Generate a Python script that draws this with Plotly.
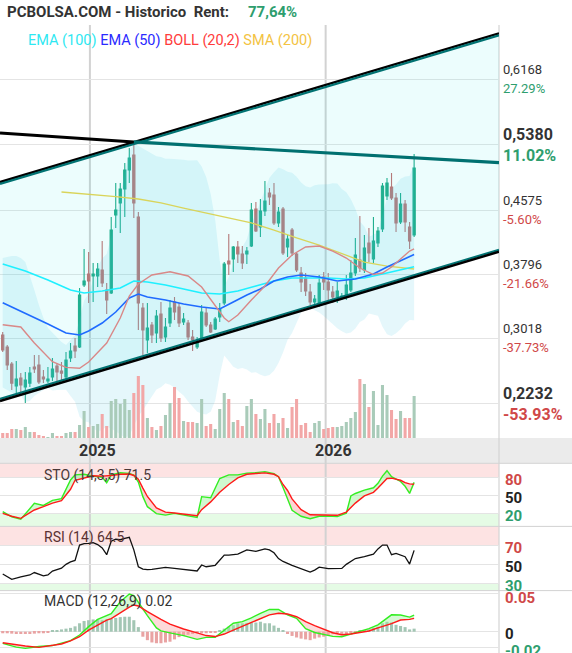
import numpy as np
import pandas as pd
import plotly.graph_objects as go

W, H = 572, 653

# ---------------- data (weekly candles) ----------------
dates = pd.date_range('2024-08-19', periods=92, freq='7D')

opens = [.3061,.2915,.2707,.2439,.2537,.2427,.2475,.2671,.2695,.2549,
         .2500,.2549,.2683,.2622,.2549,.2780,.2927,.2915,.3670,.3804,
         .3780,.3780,.3853,.3609,.3572,.4523,.4670,.4840,.5071,.5254,
         .4499,.3390,.3000,.3183,.3085,.3316,.3037,.3207,.3463,.3402,
         .3219,.3207,.3037,.2915,.3012,.3329,.3183,.3134,.3280,.3450,
         .3963,.3987,.4133,.4048,.4048,.4145,.4596,.4377,.4572,.4791,
         .4767,.4426,.4596,.4133,.4340,.4048,.3816,.3756,.3585,.3463,
         .3450,.3768,.3707,.3585,.3524,.3512,.3536,.3609,.3816,.3975,
         .3853,.4182,.3987,.4182,.4352,.4755,.4864,.4731,.4438,.4657,
         .4377,.4279]
highs = [.3098,.2939,.2732,.2744,.2597,.2610,.2671,.2817,.2817,.2634,
         .2671,.2780,.2719,.2732,.2854,.2963,.3024,.3633,.4109,.4073,
         .3938,.3938,.4206,.3694,.4499,.4913,.4913,.5157,.5340,.5376,
         .4560,.3450,.3450,.3219,.3365,.3463,.3268,.3487,.3524,.3450,
         .3329,.3244,.3122,.3037,.3426,.3390,.3219,.3280,.3450,.3951,
         .4291,.4145,.4206,.4145,.4133,.4670,.4682,.4718,.4938,.4852,
         .4913,.4621,.4621,.4279,.4365,.4072,.3890,.3816,.3682,.3548,
         .3792,.3829,.3816,.3658,.3707,.3572,.3792,.3975,.4243,.4511,
         .4279,.4365,.4499,.4377,.4913,.4974,.5035,.4791,.4791,.4706,
         .4438,.5266]
lows = [.2854,.2634,.2391,.2354,.2354,.2232,.2427,.2597,.2463,.2475,
        .2475,.2500,.2488,.2512,.2524,.2732,.2780,.2903,.3646,.3450,
        .3463,.3646,.3646,.3316,.3560,.4365,.4304,.4499,.4913,.4487,
        .3122,.2817,.2842,.2963,.2963,.2976,.2976,.3158,.3244,.3158,
        .3183,.3000,.2866,.2890,.2976,.3158,.3085,.3122,.3219,.3426,
        .3792,.3829,.3938,.3865,.3926,.4133,.4316,.4255,.4511,.4645,
        .4401,.4377,.4036,.4011,.4023,.3829,.3585,.3536,.3426,.3438,
        .3402,.3609,.3487,.3450,.3450,.3487,.3487,.3585,.3780,.3829,
        .3816,.3951,.3938,.4133,.4316,.4706,.4706,.4316,.4414,.4316,
        .4109,.4255]
closes = [.2878,.2695,.2475,.2524,.2451,.2512,.2597,.2646,.2488,.2524,
          .2524,.2646,.2610,.2597,.2756,.2866,.2866,.3548,.3719,.3719,
          .3804,.3865,.3694,.3487,.4340,.4584,.4840,.5071,.5218,.4670,
          .3450,.3122,.3146,.3061,.3292,.3024,.3158,.3390,.3341,.3207,
          .3256,.3037,.3000,.2976,.3341,.3183,.3098,.3256,.3378,.3926,
          .3926,.4133,.4048,.3938,.4084,.4584,.4328,.4572,.4694,.4743,
          .4426,.4560,.4060,.4231,.4060,.3853,.3707,.3597,.3463,.3499,
          .3694,.3707,.3609,.3524,.3597,.3536,.3670,.3816,.4036,.3878,
          .4121,.4060,.4206,.4328,.4876,.4913,.4731,.4426,.4657,.4438,
          .4206,.5095]
volume = [5,5,9,9,8,11,6,6,3,2,1,5,2,2,5,6,6,13,27,11,12,14,24,12,37,39,
          34,39,28,45,62,53,20,11,8,12,23,35,51,40,17,16,16,15,39,12,14,9,29,45,
          39,16,18,12,32,39,24,19,29,15,24,15,20,10,31,39,13,15,6,15,
          17,9,10,11,11,12,16,20,26,59,54,31,47,13,53,43,28,19,27,20,20,42]

bb_upper = [.3999,.4011,.4023,.4023,.3999,.3950,.3792,.3609,.3426,.3268,
            .3146,.3085,.3024,.2975,.2939,.3000,.3061,.3243,.3480,.3565,
            .3729,.3891,.3993,.4047,.4261,.4500,.4764,.5041,.5295,.5397,
            .5366,.5340,.5307,.5271,.5240,.5229,.5209,.5209,.5206,.5205,
            .5197,.5188,.5187,.5191,.5114,.4985,.4779,.4462,.3968,.3652,
            .3767,.3939,.4057,.4132,.4228,.4426,.4535,.4683,.4838,.4977,
            .5043,.5101,.5079,.5050,.5037,.4990,.4918,.4872,.4859,.4887,
            .4894,.4892,.4897,.4909,.4907,.4840,.4801,.4714,.4599,.4444,
            .4382,.4259,.4287,.4311,.4528,.4725,.4846,.4896,.4966,.4991,
            .4998,.5142]
bb_lower = [.2422,.2391,.2354,.2330,.2317,.2244,.2256,.2317,.2354,.2391,
            .2415,.2386,.2391,.2391,.2395,.2317,.2249,.2066,.2010,.1999,
            .1927,.1882,.1903,.1945,.1919,.1888,.1848,.1813,.1833,.1946,
            .2070,.2143,.2230,.2311,.2396,.2423,.2473,.2456,.2421,.2371,
            .2325,.2250,.2182,.2127,.2105,.2093,.2125,.2261,.2571,.2812,
            .2745,.2673,.2646,.2659,.2642,.2600,.2608,.2578,.2559,.2573,
            .2624,.2719,.2847,.3001,.3086,.3200,.3332,.3413,.3434,.3364,
            .3334,.3292,.3243,.3190,.3144,.3106,.3080,.3091,.3140,.3218,
            .3249,.3323,.3309,.3295,.3160,.3069,.3050,.3083,.3132,.3201,
            .3245,.3240]
bb_mid_idx = [0,4,7,11,14,17,19,23,26,28,30,33,37,41,44,47,49,50,52,55,58,61,64,67,70,73,76,79,82,84,86,88,90,91]
bb_mid = [.3186,.3158,.2963,.2735,.2667,.2655,.2732,.2963,.3268,.3536,.3682,.3792,.3832,.3780,.3646,.3426,.3268,.3223,
          .3304,.3487,.3658,.3877,.4036,.4133,.4145,.4084,.3999,.3877,.3798,.3816,.3889,.3987,.4084,.4109]

sma200_idx = [13,20,25,30,35,40,45,50,55,60,65,70,75,80,85,91]
sma200 = [.4803,.4773,.4748,.4718,.4670,.4608,.4547,.4486,.4426,.4340,.4243,.4157,.4054,.3950,.3901,.3865]
ema100_idx = [0,5,10,15,18,22,26,29,32,36,40,44,48,52,56,60,64,68,72,76,80,84,88,91]
ema100 = [.3926,.3841,.3731,.3609,.3573,.3597,.3633,.3719,.3707,.3670,.3621,.3573,.3560,.3597,.3658,.3719,
          .3755,.3755,.3755,.3743,.3755,.3804,.3853,.3893]
ema50_idx = [0,5,10,14,17,19,22,25,28,30,32,36,40,44,48,51,54,57,60,63,66,70,74,78,82,85,88,91]
ema50 = [.3454,.3329,.3195,.3085,.3061,.3110,.3207,.3341,.3512,.3560,.3524,.3487,.3438,.3402,.3378,.3463,
         .3548,.3621,.3719,.3768,.3792,.3768,.3719,.3743,.3804,.3889,.3962,.4042]

# trend channel / resistance (value at chart edges)
x_start, x_end = '2024-08-14 19:00', '2026-09-26 10:00'
chan_upper = [.4913, .6725]
chan_lower = [.2269, .4087]
resist_left, resist_peak, resist_right = .5522, .5413, .5162
resist_peak_idx = 29

# oscillators
sto_idx = [0,2,4,6,7,9,11,13,15,16,18,20,22,23,24,26,28,29,30,31,32,34,36,38,40,42,43,44,46,48,
           50,52,54,56,58,60,61,62,63,64,66,68,70,72,74,76,77,78,80,82,83,84,85,86,88,89,90,91]
sto_k = [22.7,14,10,27,36.6,33,41.5,44.5,75.5,84,85,82,80,71,84,87.5,86.5,83.8,72,47.7,
         31,19.5,17,19.9,17.5,14,13.2,47.7,46,78,84,84,87,87.7,89.4,86,81,63,45,25,
         15,11,15,15.5,14.5,20,48.8,53,58.5,62.5,70,82,91,81,73,65,53.2,71.5]
sto_d = [19.9,15,11.6,21,25.5,31,37,41,60,75,78.5,82.5,82,82,83,85,85.5,83,77,62,
         48,29,22,20.5,19,16.5,16,26,39,55,68,79,85,86.3,87.3,85,81,68,58,44,
         26,17.5,17,16.6,16.6,22,29,37,49,55,62,70,78,78.5,75,71,69,68.5]

rsi_idx = [0,1,2,4,6,7,9,10,11,13,14,15,16,17,18,19,20,21,22,23,24,25,26,27,28,29,30,31,32,33,
           34,35,36,38,40,42,43,44,45,47,48,49,50,52,54,55,56,57,58,59,60,61,62,64,66,68,69,70,72,74,
           75,76,78,80,82,83,84,85,86,87,88,89,90,91]
rsi = [40,37,34.5,37,39,41.5,38,39,43,46,50,52.5,54,70,71.5,71.7,72.4,70.5,67,60,74,76,75.5,77,78,65,47.5,45,44.5,44.8,
       45.5,46.2,46.9,45.8,44.5,43.6,43.1,49.3,47.5,49,54,59.6,59.6,60.5,65,64.5,63.5,64.8,66,65,62,56,53,49,45.5,42,44,47,45.5,45.5,
       45.8,50,56,57.9,60.5,66,70,70,60,61.4,60,57.9,50.3,64.5]

macd_idx = [0,3,5,8,11,13,15,17,19,21,23,24,26,28,29,30,32,34,35,37,40,43,45,47,49,51,53,55,57,59,
            61,63,65,67,69,71,73,75,77,79,81,83,84,86,88,90,91]
macd = [-0.0151,-0.020,-0.0217,-0.0193,-0.018,-0.0151,-0.0115,-0.0043,0.0066,0.016,
        0.021,0.0235,0.039,0.049,0.047,0.038,0.021,0.005,0.001,-0.0015,
        -0.005,-0.0099,-0.0073,-0.0073,0.0022,0.011,0.0131,0.018,0.024,0.029,
        0.0291,0.022,0.0174,0.004,-0.001,-0.004,-0.006,-0.0065,-0.003,0.001,
        0.004,0.009,0.013,0.022,0.0217,0.019,0.0217]
signal = [-0.0143,-0.017,-0.0186,-0.0204,-0.018,-0.016,-0.012,-0.0065,0.002,0.009,
          0.015,0.017,0.025,0.032,0.0348,0.0335,0.0261,0.019,0.016,0.010,
          0.0035,-0.0015,-0.005,-0.0063,-0.003,0.002,0.007,0.012,0.0174,0.022,
          0.024,0.023,0.0195,0.013,0.008,0.003,-0.0013,-0.004,-0.003,-0.001,
          0.001,0.005,0.0065,0.0105,0.0152,0.016,0.0174]
hist = [-0.002,-0.002,-0.0025,-0.003,-0.003,-0.003,-0.003,-0.0025,-0.002,-0.002,
        -0.001,0.002,0.002,0.003,0.004,0.005,0.007,0.011,0.014,0.015,
        0.016,0.016,0.015,0.016,0.017,0.018,0.019,0.0195,0.0195,0.015,
        0.006,-0.0065,-0.011,-0.014,-0.015,-0.015,-0.014,-0.013,-0.010,-0.007,
        -0.0055,-0.004,-0.003,-0.002,-0.002,-0.002,-0.0015,-0.001,0.001,0.004,
        0.0065,0.0085,0.011,0.011,0.0115,0.012,0.012,0.013,0.011,0.011,
        0.008,0.005,0.001,-0.003,-0.0055,-0.0075,-0.009,-0.010,-0.011,-0.009,
        -0.0075,-0.0065,-0.0045,-0.003,-0.002,-0.003,-0.003,-0.002,-0.001,0.001,
        0.002,0.003,0.005,0.0065,0.011,0.013,0.012,0.009,0.0075,0.006,
        0.003,0.004]

price_ticks = [0.6168, 0.5380, 0.4575, 0.3796, 0.3018, 0.2232]
price_labels = ['0,6168', '0,5380', '0,4575', '0,3796', '0,3018', '0,2232']
pct_labels = ['27.29%', '11.02%', '-5.60%', '-21.66%', '-37.73%', '-53.93%']
bold_levels = ['0,5380', '0,2232']
year_marks = ['2025-01-01', '2026-01-01']
year_labels = ['2025', '2026']

# ---------------- styling ----------------
FONT = 'Roboto, Arial, sans-serif'
GREEN_TXT = '#2e9e6e'
RED_TXT = '#d04848'
UP = '#22ab88'
DOWN = '#c47070'

def py(px):
    return 1 - px / H

XR = 499 / W
dom_main = [py(438), py(25)]
dom_sto = [py(526), py(463.3)]
dom_rsi = [py(590), py(526.7)]
dom_macd = [0, py(591)]

fig = go.Figure()

def sub(lst, idx):
    return [lst[i] for i in idx]

# Bollinger band fill
fig.add_trace(go.Scatter(x=dates, y=bb_lower, mode='lines', line=dict(width=0), hoverinfo='skip', showlegend=False))
fig.add_trace(go.Scatter(x=dates, y=bb_upper, mode='lines', line=dict(width=0), fill='tonexty',
                         fillcolor='rgba(70,200,230,0.14)', hoverinfo='skip', showlegend=False))
# channel fill
fig.add_trace(go.Scatter(x=[x_start, x_end, x_end, x_start, x_start],
                         y=[chan_upper[0], chan_upper[1], chan_lower[1], chan_lower[0], chan_upper[0]],
                         mode='lines', line=dict(width=0), fill='toself', fillcolor='rgba(17,230,230,0.08)',
                         hoverinfo='skip', showlegend=False))
# moving averages
fig.add_trace(go.Scatter(x=sub(dates, sma200_idx), y=sma200, mode='lines', line=dict(color='#d9d45a', width=1.3), showlegend=False))
fig.add_trace(go.Scatter(x=sub(dates, ema100_idx), y=ema100, mode='lines', line=dict(color='#1ff0ff', width=1.6), showlegend=False))
fig.add_trace(go.Scatter(x=sub(dates, ema50_idx), y=ema50, mode='lines', line=dict(color='#1f6bff', width=1.6), showlegend=False))
fig.add_trace(go.Scatter(x=sub(dates, bb_mid_idx), y=bb_mid, mode='lines', line=dict(color='#d98888', width=1.4), showlegend=False))

# channel lines (black + teal double stroke)
off = 0.0012
fig.add_trace(go.Scatter(x=[x_start, x_end], y=[v + off for v in chan_upper], mode='lines', line=dict(color='#000', width=2.4), showlegend=False))
fig.add_trace(go.Scatter(x=[x_start, x_end], y=[v - off for v in chan_upper], mode='lines', line=dict(color='#007272', width=2.2), showlegend=False))
fig.add_trace(go.Scatter(x=[x_start, x_end], y=[v + off for v in chan_lower], mode='lines', line=dict(color='#007272', width=2.2), showlegend=False))
fig.add_trace(go.Scatter(x=[x_start, x_end], y=[v - off for v in chan_lower], mode='lines', line=dict(color='#000', width=2.4), showlegend=False))
# resistance line
fig.add_trace(go.Scatter(x=[x_start, dates[resist_peak_idx]], y=[resist_left, resist_peak], mode='lines',
                         line=dict(color='#000', width=3), showlegend=False))
fig.add_trace(go.Scatter(x=[dates[resist_peak_idx], x_end], y=[resist_peak, resist_right], mode='lines',
                         line=dict(color='#007070', width=3.2), showlegend=False))

# candles
fig.add_trace(go.Candlestick(x=dates, open=opens, high=highs, low=lows, close=closes,
                             increasing=dict(line=dict(color=UP, width=1.1), fillcolor=UP),
                             decreasing=dict(line=dict(color=DOWN, width=1.1), fillcolor=DOWN),
                             whiskerwidth=0, showlegend=False, hoverinfo='skip'))

# volume
vcol = ['#a9cbb9' if c >= o else '#f2a7a7' for o, c in zip(opens, closes)]
fig.add_trace(go.Bar(x=dates, y=volume, marker=dict(color=vcol, line=dict(width=0)), yaxis='y2', showlegend=False, hoverinfo='skip'))

# ---- STO ----
k = np.array(sto_k); d = np.array(sto_d); xs = sub(dates, sto_idx)
fig.add_trace(go.Scatter(x=xs, y=d, mode='lines', line=dict(width=0), yaxis='y3', showlegend=False, hoverinfo='skip'))
fig.add_trace(go.Scatter(x=xs, y=np.maximum(k, d), mode='lines', line=dict(width=0), fill='tonexty',
                         fillcolor='rgba(150,240,150,0.45)', yaxis='y3', showlegend=False, hoverinfo='skip'))
fig.add_trace(go.Scatter(x=xs, y=d, mode='lines', line=dict(width=0), yaxis='y3', showlegend=False, hoverinfo='skip'))
fig.add_trace(go.Scatter(x=xs, y=np.minimum(k, d), mode='lines', line=dict(width=0), fill='tonexty',
                         fillcolor='rgba(250,160,160,0.45)', yaxis='y3', showlegend=False, hoverinfo='skip'))
fig.add_trace(go.Scatter(x=xs, y=k, mode='lines', line=dict(color='#33ee22', width=1.4), yaxis='y3', showlegend=False))
fig.add_trace(go.Scatter(x=xs, y=d, mode='lines', line=dict(color='#ff1a1a', width=1.4), yaxis='y3', showlegend=False))

# ---- RSI ----
fig.add_trace(go.Scatter(x=sub(dates, rsi_idx), y=rsi, mode='lines', line=dict(color='#111', width=1.3), yaxis='y4', showlegend=False))

# ---- MACD ----
hcol = ['#a3c6b4' if v >= 0 else '#e9a3a3' for v in hist]
fig.add_trace(go.Bar(x=dates, y=hist, marker=dict(color=hcol, line=dict(width=0)), yaxis='y5', showlegend=False, hoverinfo='skip'))
m = np.array(macd); s = np.array(signal); xm = sub(dates, macd_idx)
fig.add_trace(go.Scatter(x=xm, y=s, mode='lines', line=dict(width=0), yaxis='y5', showlegend=False, hoverinfo='skip'))
fig.add_trace(go.Scatter(x=xm, y=np.maximum(m, s), mode='lines', line=dict(width=0), fill='tonexty',
                         fillcolor='rgba(150,240,150,0.4)', yaxis='y5', showlegend=False, hoverinfo='skip'))
fig.add_trace(go.Scatter(x=xm, y=s, mode='lines', line=dict(width=0), yaxis='y5', showlegend=False, hoverinfo='skip'))
fig.add_trace(go.Scatter(x=xm, y=np.minimum(m, s), mode='lines', line=dict(width=0), fill='tonexty',
                         fillcolor='rgba(250,160,160,0.4)', yaxis='y5', showlegend=False, hoverinfo='skip'))
fig.add_trace(go.Scatter(x=xm, y=m, mode='lines', line=dict(color='#33ee22', width=1.4), yaxis='y5', showlegend=False))
fig.add_trace(go.Scatter(x=xm, y=s, mode='lines', line=dict(color='#ff1a1a', width=1.4), yaxis='y5', showlegend=False))

# ---------------- layout ----------------
grid = '#e4e4e4'
yax_common = dict(showticklabels=False, zeroline=False, gridcolor=grid, gridwidth=1, fixedrange=True, anchor='x', showline=False)
fig.update_layout(
    width=W, height=H, margin=dict(l=0, r=0, t=0, b=0, pad=0),
    paper_bgcolor='white', plot_bgcolor='rgba(0,0,0,0)',
    font=dict(family=FONT, color='#333'),
    bargap=0.32, showlegend=False,
    xaxis=dict(domain=[0, XR], type='date', range=[x_start, x_end], showgrid=False, showticklabels=False,
               zeroline=False, showline=False, ticks='', rangeslider=dict(visible=False), fixedrange=True),
    yaxis=dict(domain=dom_main, range=[0.1806, 0.6838], tickvals=price_ticks, **yax_common),
    yaxis2=dict(overlaying='y', range=[0, 413], visible=False, anchor='x', fixedrange=True),
    yaxis3=dict(domain=dom_sto, range=[-1.2, 103.3], tickvals=[20, 50, 80], **yax_common),
    yaxis4=dict(domain=dom_rsi, range=[23.4, 89], tickvals=[30, 50, 70], **yax_common),
    yaxis5=dict(domain=dom_macd, range=[-0.0277, 0.0530], tickvals=[-0.02, 0, 0.05], **yax_common),
)

shapes = []
# date band
shapes.append(dict(type='rect', xref='paper', yref='paper', x0=0, x1=1, y0=py(463), y1=py(438),
                   fillcolor='#ebebeb', line=dict(width=0), layer='below'))
# oscillator zones
shapes.append(dict(type='rect', xref='paper', yref='y3', x0=0, x1=XR, y0=80, y1=103.3, fillcolor='#fde3e3', line=dict(width=0), layer='below'))
shapes.append(dict(type='rect', xref='paper', yref='y3', x0=0, x1=XR, y0=-1.2, y1=20, fillcolor='#e5fbe5', line=dict(width=0), layer='below'))
shapes.append(dict(type='rect', xref='paper', yref='y4', x0=0, x1=XR, y0=70, y1=89, fillcolor='#fde3e3', line=dict(width=0), layer='below'))
shapes.append(dict(type='rect', xref='paper', yref='y4', x0=0, x1=XR, y0=23.4, y1=30, fillcolor='#e5fbe5', line=dict(width=0), layer='below'))
# separators
for ypx in [463.3, 526.4, 590.6]:
    shapes.append(dict(type='line', xref='paper', yref='paper', x0=0, x1=1, y0=py(ypx), y1=py(ypx),
                       line=dict(color='#d2d2d2', width=1), layer='below'))
# right border
shapes.append(dict(type='line', xref='paper', yref='paper', x0=XR, x1=XR, y0=0, y1=py(25),
                   line=dict(color='#d4d4d4', width=1.2), layer='below'))
# year lines
for ym in year_marks:
    shapes.append(dict(type='line', xref='x', yref='paper', x0=ym, x1=ym, y0=0, y1=py(25),
                       line=dict(color='#d2d2d2', width=2), layer='below'))
fig.update_layout(shapes=shapes)

ann = []
ann.append(dict(xref='paper', yref='paper', x=5 / W, y=py(12), xanchor='left', yanchor='middle', showarrow=False,
                text='<b>PCBOLSA.COM - Historico\u00a0\u00a0Rent:</b>', font=dict(size=15, color='#333', family=FONT)))
ann.append(dict(xref='paper', yref='paper', x=246 / W, y=py(12), xanchor='left', yanchor='middle', showarrow=False,
                text='<b>77,64%</b>', font=dict(size=15, color=GREEN_TXT, family=FONT)))
ann.append(dict(xref='paper', yref='paper', x=26 / W, y=py(41), xanchor='left', yanchor='middle', showarrow=False,
                text='<span style="color:#2ee8f2">EMA (100)</span> <span style="color:#2a2aff">EMA (50)</span> '
                     '<span style="color:#ff3b3b">BOLL (20,2)</span> <span style="color:#f3c343">SMA (200)</span>',
                font=dict(size=14.5, family=FONT)))
# price labels
for v, lab, pct in zip(price_ticks, price_labels, pct_labels):
    bold = lab in bold_levels
    col = GREEN_TXT if not pct.startswith('-') else RED_TXT
    sz = 16 if bold else 13
    t1 = f'<b>{lab}</b>' if bold else lab
    t2 = f'<b>{pct}</b>' if bold else pct
    ann.append(dict(xref='paper', yref='y', x=501 / W, y=v, xanchor='left', yanchor='middle', showarrow=False,
                    yshift=10, text=t1, font=dict(size=sz, color='#333', family=FONT)))
    ann.append(dict(xref='paper', yref='y', x=501 / W, y=v, xanchor='left', yanchor='middle', showarrow=False,
                    yshift=-11 if bold else -9, text=t2, font=dict(size=sz, color=col, family=FONT)))
# year labels
for ym, yl in zip(year_marks, year_labels):
    ann.append(dict(xref='x', yref='paper', x=ym, y=py(450.5), xanchor='center', yanchor='middle', showarrow=False,
                    xshift=8, text=f'<b>{yl}</b>', font=dict(size=16, color='#333', family=FONT)))
# oscillator axis labels
osc = [('y3', 80, '80', RED_TXT, -3), ('y3', 50, '50', '#222', -3), ('y3', 20, '20', GREEN_TXT, -3),
       ('y4', 70, '70', RED_TXT, -3), ('y4', 50, '50', '#222', -3), ('y4', 30, '30', GREEN_TXT, -2),
       ('y5', 0.05, '0.05', RED_TXT, -5), ('y5', 0, '0', '#222', -2), ('y5', -0.02, '-0.02', GREEN_TXT, -4)]
for ax, v, t, c, sh in osc:
    ann.append(dict(xref='paper', yref=ax, x=503 / W, y=v, xanchor='left', yanchor='middle', showarrow=False,
                    yshift=sh, text=f'<b>{t}</b>', font=dict(size=15, color=c, family=FONT)))
# panel titles
ann.append(dict(xref='paper', yref='paper', x=42 / W, y=py(475), xanchor='left', yanchor='middle', showarrow=False,
                text='STO (14,3,5) 71.5', font=dict(size=14, color='#4a3838', family=FONT)))
ann.append(dict(xref='paper', yref='paper', x=42 / W, y=py(537), xanchor='left', yanchor='middle', showarrow=False,
                text='RSI (14) 64.5', font=dict(size=14, color='#5a3232', family=FONT)))
ann.append(dict(xref='paper', yref='paper', x=42 / W, y=py(601), xanchor='left', yanchor='middle', showarrow=False,
                text='MACD (12,26,9) 0.02', font=dict(size=14, color='#333', family=FONT)))
fig.update_layout(annotations=ann)

fig.write_html('out.html', config={'displayModeBar': False},
               post_script="document.body.style.margin='0';document.body.style.overflow='hidden';")
